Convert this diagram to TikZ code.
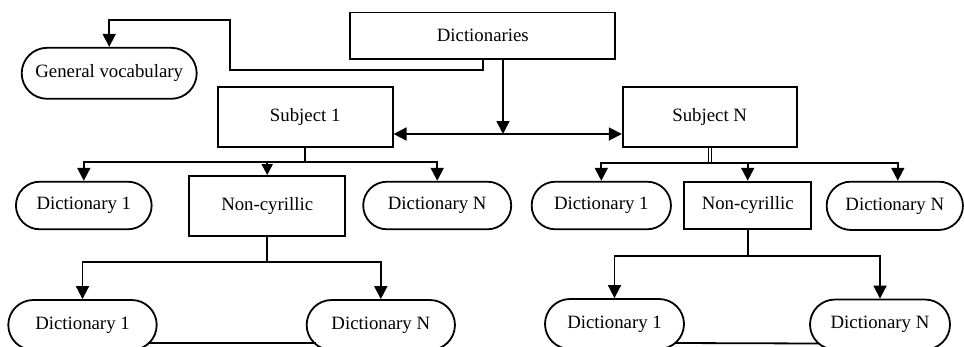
\documentclass[tikz,border=0pt]{standalone}
\usepackage{fontspec}
\setmainfont{Liberation Serif}
\usetikzlibrary{arrows.meta,shapes.misc}
\begin{document}
\begin{tikzpicture}[x=1pt,y=-1pt,
  every node/.style={font=\fontsize{18.8}{22}\selectfont, inner sep=0pt, line width=1.8pt},
  boxn/.style={draw, rectangle},
  pill/.style={draw, rounded rectangle, rounded rectangle arc length=180},
  conn/.style={line width=1.8pt},
  arr/.style={conn, -{Triangle[width=13pt,length=13pt]}},
  sarr/.style={conn, -{Triangle[width=11pt,length=11pt]}},
  barr/.style={conn, {Triangle[width=13pt,length=13pt]}-{Triangle[width=13pt,length=13pt]}}]
\clip (0,0) rectangle (964,346);
% nodes
\node[boxn, minimum width=265pt, minimum height=46.5pt] (dict) at (482.8,35.7) {Dictionaries};
\node[pill, minimum width=175pt, minimum height=51pt] (gv) at (109.2,73.3) {General vocabulary};
\node[boxn, minimum width=175pt, minimum height=60pt] (s1) at (305.2,116.7) {Subject 1};
\node[boxn, minimum width=174pt, minimum height=59.4pt] (sN) at (709.7,117) {Subject N};
\node[pill, minimum width=135.7pt, minimum height=47.6pt] (d1L) at (83.8,205.5) {Dictionary 1};
\node[boxn, minimum width=155.7pt, minimum height=59.7pt] (ncL) at (267.2,205.8) {Non-cyrillic};
\node[pill, minimum width=148pt, minimum height=47.6pt] (dNL) at (437.2,205.5) {Dictionary N};
\node[pill, minimum width=139.3pt, minimum height=47.6pt] (d1R) at (601.3,205.5) {Dictionary 1};
\node[boxn, minimum width=126.7pt, minimum height=47.3pt] (ncR) at (747.7,205.3) {Non-cyrillic};
\node[pill, minimum width=136.3pt, minimum height=48.3pt] (dNR) at (894.8,205.8) {Dictionary N};
\node[pill, minimum width=148.4pt, minimum height=50pt] (bd1L) at (82.5,325) {Dictionary 1};
\node[pill, minimum width=148.3pt, minimum height=50pt] (bdNL) at (380.8,325) {Dictionary N};
\node[pill, minimum width=139pt, minimum height=50pt] (bd1R) at (614.5,324) {Dictionary 1};
\node[pill, minimum width=140pt, minimum height=50pt] (bdNR) at (880,324.5) {Dictionary N};
% junction coordinates
\coordinate (j) at (503,134);
\coordinate (b1) at (305.2,161.7);
\coordinate (b2) at (710.5,163.3);
\coordinate (b3) at (267.2,261.7);
\coordinate (b4) at (747.7,256);
% connectors
\draw[arr] (dict.south) -- ++(0,10) -| (230,20) -| (gv.north);
\draw[arr] (dict.south -| j) -- (j);
\draw[barr] (s1.east |- j) -- (sN.west |- j);
\draw[conn] (s1.south) -- (b1);
\draw[arr] (b1) -| (d1L.north);
\draw[sarr] (b1) -| (ncL.north);
\draw[arr] (b1) -| (dNL.north);
\draw[line width=1pt, double, double distance=2.4pt] (sN.south) -- (sN.south |- b2);
\draw[arr] (b2) -| (d1R.north);
\draw[arr] (b2) -| (ncR.north);
\draw[arr] (b2) -| ([xshift=3pt]dNR.north);
\draw[conn] (ncL.south) -- (b3);
\draw[arr] (b3) -| (bd1L.north);
\draw[arr] (b3) -| (bdNL.north);
\draw[conn] (ncR.south) -- (b4);
\draw[arr] (b4) -| (bd1R.north);
\draw[arr] (b4) -| (bdNR.north);
\draw[conn] ([xshift=-10pt,yshift=-18pt]bd1L.east) -- ([xshift=10pt,yshift=-18pt]bdNL.west);
\draw[conn] ([xshift=-10pt,yshift=-19pt]bd1R.east) -- ([xshift=10pt,yshift=-19pt]bdNR.west);
\end{tikzpicture}
\end{document}
